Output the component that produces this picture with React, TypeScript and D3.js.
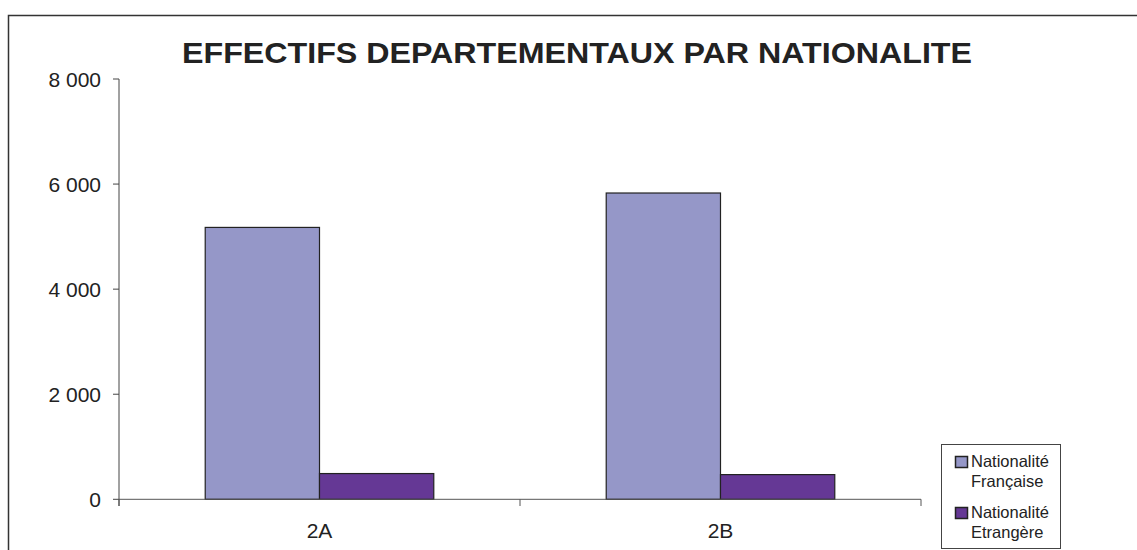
import React from "react";
import * as d3 from "d3";

const categories = ["2A", "2B"];
const seriesNames = ["Nationalité Française", "Nationalité Etrangère"];
const legendLines = [["Nationalité", "Française"], ["Nationalité", "Etrangère"]];
const francaise = [5175, 5830];
const etrangere = [490, 470];
const yTicks = [0, 2000, 4000, 6000, 8000];
const colors = ["#9597c8", "#653895"];

const W = 1137, H = 550;

export default function App() {
  const x0 = d3.scaleBand<string>().domain(categories).range([119, 921]).paddingInner(0.43).paddingOuter(0.215);
  const x1 = d3.scaleBand<number>().domain([0, 1]).range([0, x0.bandwidth()]);
  const y = d3.scaleLinear().domain([0, 8000]).range([499.3, 79]);
  const fmt = (v: number) => d3.format(",")(v).replace(/,/g, " ");
  const series = [francaise, etrangere];
  const bounds = [119, ...categories.map((c) => (x0(c) as number) + x0.bandwidth() / 2 + x0.step() / 2)];

  return (
    <svg width={W} height={H} style={{ position: "absolute", left: 0, top: 0, display: "block" }} fontFamily="Liberation Sans, Arial, sans-serif">
      <rect x={0} y={0} width={W} height={H} fill="#fff" />
      <rect x={8.5} y={15.5} width={W} height={H} fill="none" stroke="#333" strokeWidth={1.5} />
      <text x={577} y={63} textAnchor="middle" fontWeight="bold" fontSize={30} fill="#222" textLength={790} lengthAdjust="spacingAndGlyphs">
        EFFECTIFS DEPARTEMENTAUX PAR NATIONALITE
      </text>
      {/* bars */}
      {categories.map((c, ci) =>
        series.map((s, si) => (
          <rect key={c + si}
            x={(x0(c) as number) + (x1(si) as number)}
            y={y(s[ci])}
            width={x1.bandwidth()}
            height={y(0) - y(s[ci])}
            fill={colors[si]} stroke="#222" strokeWidth={1.2} />
        ))
      )}
      {/* y axis */}
      <line x1={119} x2={119} y1={y(8000)} y2={506} stroke="#444" strokeWidth={1} />
      {yTicks.map((t) => (
        <g key={t}>
          <line x1={113} x2={119} y1={y(t)} y2={y(t)} stroke="#444" />
          <text x={101} y={y(t)} dy="0.36em" textAnchor="end" fontSize={21} fill="#222">{fmt(t)}</text>
        </g>
      ))}
      {/* x axis */}
      <line x1={119} x2={921} y1={y(0)} y2={y(0)} stroke="#555" strokeWidth={1} />
      {bounds.map((b, i) => (
        <line key={i} x1={b} x2={b} y1={y(0)} y2={506} stroke="#555" />
      ))}
      {categories.map((c) => (
        <text key={c} x={(x0(c) as number) + x0.bandwidth() / 2} y={538} textAnchor="middle" fontSize={21} fill="#222">{c}</text>
      ))}
      {/* legend */}
      <rect x={941.5} y={444.5} width={119} height={104} fill="#fff" stroke="#444" strokeWidth={1} />
      {seriesNames.map((n, i) => (
        <g key={n}>
          <rect x={955.5} y={456.5 + i * 51} width={12} height={11} fill={colors[i]} stroke="#222" strokeWidth={1.5} />
          <text x={971} y={467 + i * 51} fontSize={16.5} fill="#222">{legendLines[i][0]}</text>
          <text x={971} y={487 + i * 51} fontSize={16.5} fill="#222">{legendLines[i][1]}</text>
        </g>
      ))}
    </svg>
  );
}
